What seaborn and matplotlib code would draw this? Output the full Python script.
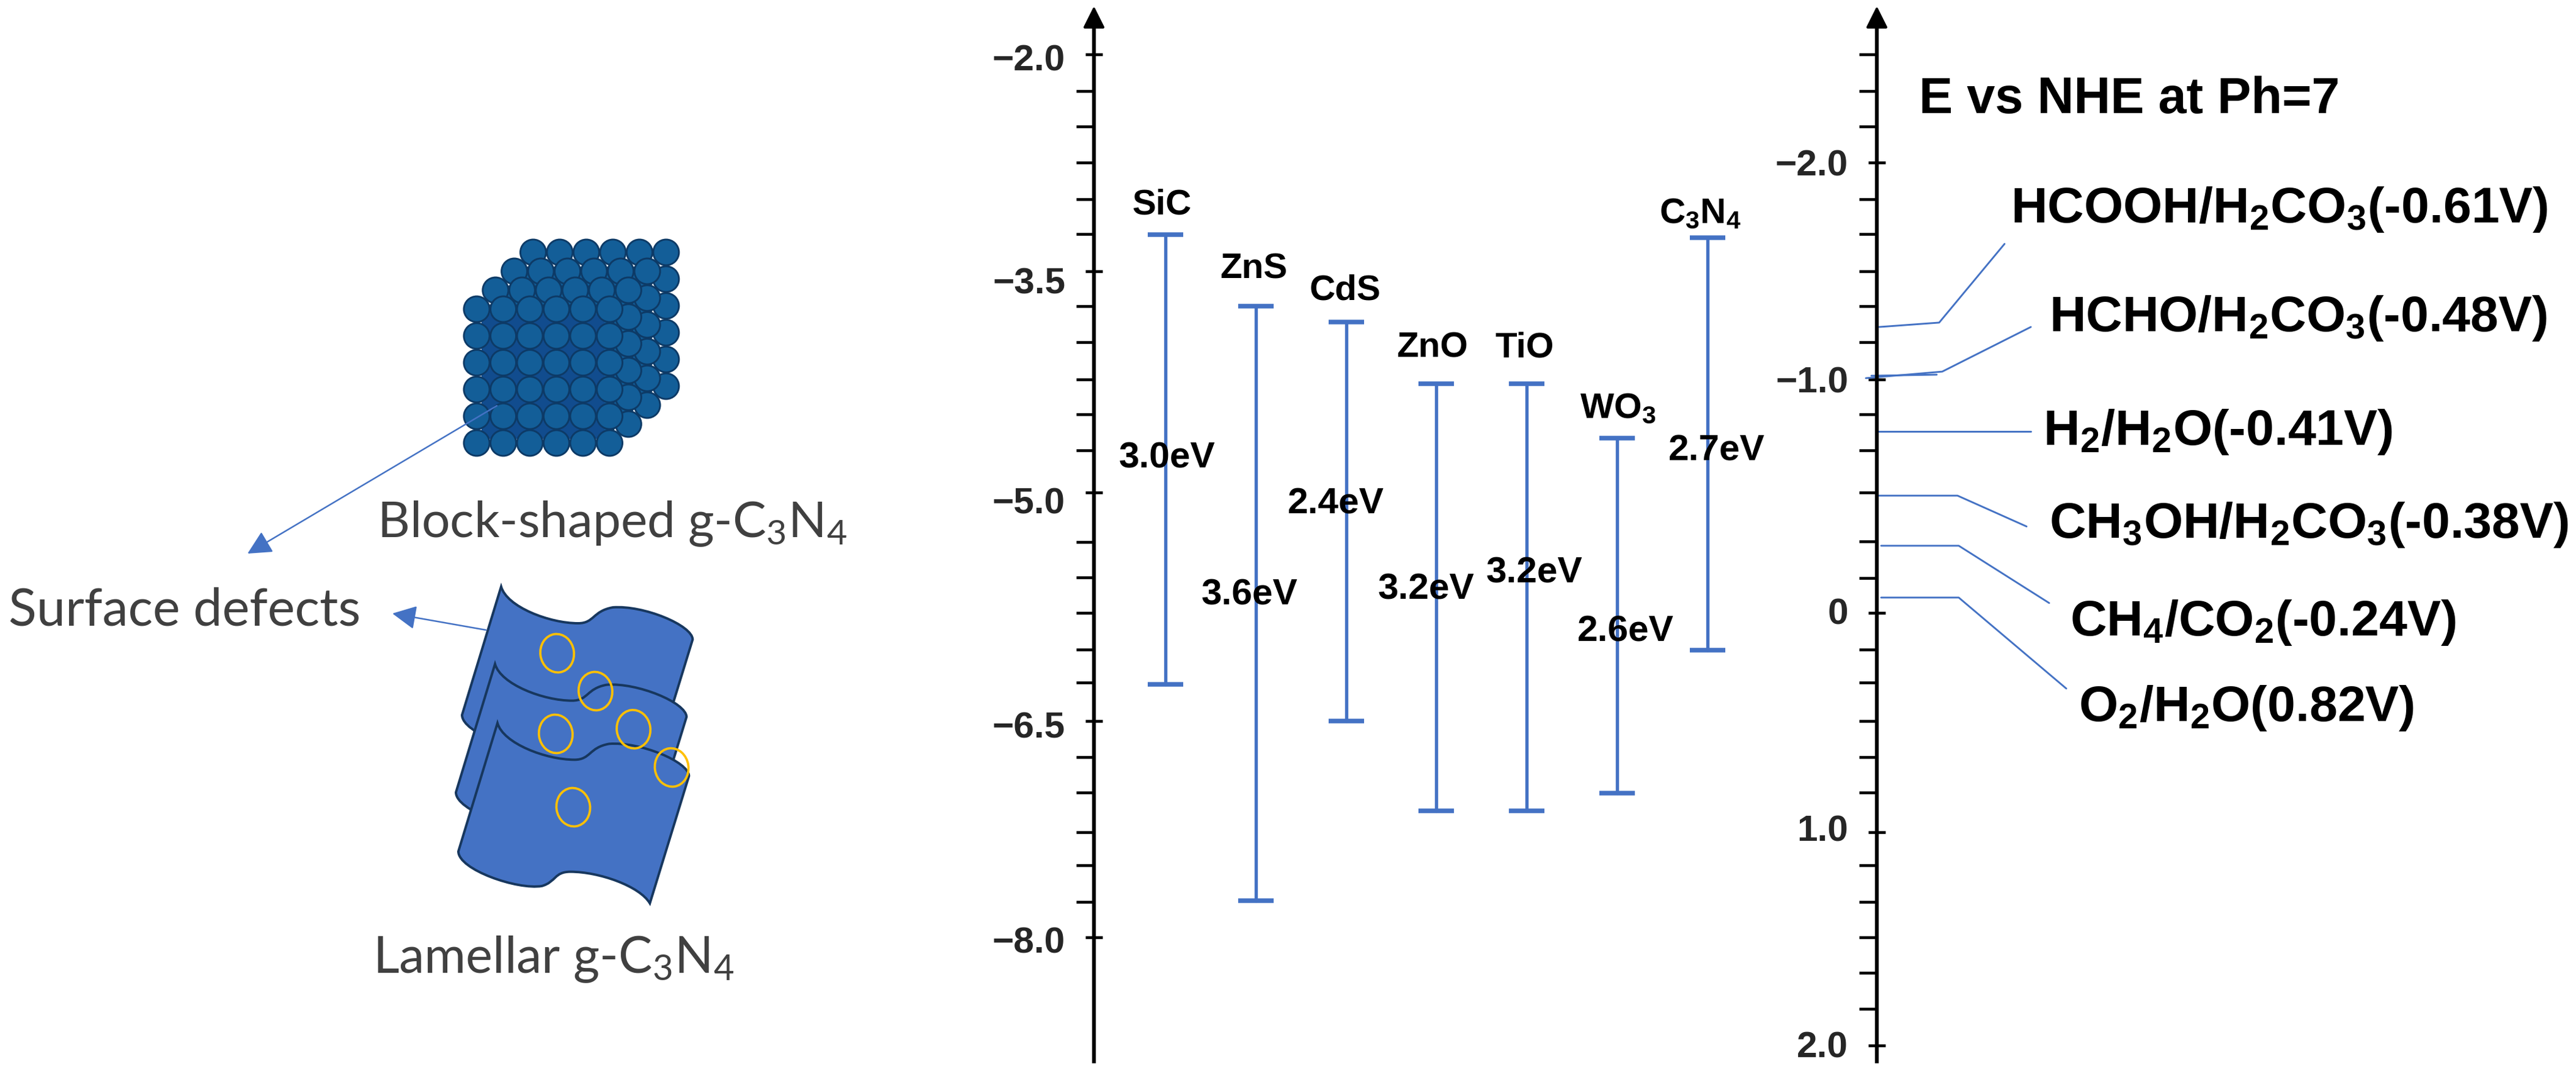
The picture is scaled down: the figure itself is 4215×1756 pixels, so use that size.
import matplotlib
matplotlib.use('Agg')
import matplotlib.pyplot as plt
import pandas as pd
import seaborn as sns
from matplotlib.patches import Circle, Ellipse, PathPatch, Rectangle
from matplotlib.path import Path
from matplotlib.transforms import ScaledTranslation

# band edges, energy scale
materials = ['SiC', 'ZnS', 'CdS', 'ZnO', 'TiO', 'WO$_3$', 'C$_3$N$_4$']
band_top = [-3.225, -3.71, -3.82, -4.24, -4.24, -4.61, -3.245]
band_bottom = [-6.28, -7.75, -6.53, -7.14, -7.14, -7.02, -6.05]
band_gap = ['3.0eV', '3.6eV', '2.4eV', '3.2eV', '3.2eV', '2.6eV', '2.7eV']

energy_major = [-2.0, -3.474, -4.978, -6.531, -8.0]
energy_major_labels = ['\u22122.0', '\u22123.5', '\u22125.0', '\u22126.5', '\u22128.0']
energy_minor = [-2.249, -2.49, -2.735, -2.984, -3.221, -3.711, -3.956, -4.209, -4.446, -4.691,
                -5.314, -5.555, -5.796, -6.045, -6.269, -6.776, -7.017, -7.286, -7.511, -7.76]

# redox potentials on the right axis
potential_major = [-2.059, -1.067, 0.0, 1.003, 1.978]
potential_major_labels = ['\u22122.0', '\u22121.0', '0', '1.0', '2.0']
potential_minor = [-2.553, -2.385, -2.223, -1.891, -1.732, -1.561, -1.402, -1.237, -0.908, -0.743,
                   -0.55, -0.327, -0.159, 0.168, 0.318, 0.494, 0.659, 0.821, 1.154, 1.321, 1.483,
                   1.645, 1.81]
redox_labels = ['HCOOH/H$_2$CO$_3$(-0.61V)', 'HCHO/H$_2$CO$_3$(-0.48V)', 'H$_2$/H$_2$O(-0.41V)',
                'CH$_3$OH/H$_2$CO$_3$(-0.38V)', 'CH$_4$/CO$_2$(-0.24V)', 'O$_2$/H$_2$O(0.82V)']
leader_start = [-1.307, -1.073, -0.83, -0.536, -0.307, -0.07]
leader_elbow = [-1.327, -1.103, -0.83, -0.536, -0.307, -0.07]
leader_end = [-1.687, -1.307, -0.83, -0.395, -0.045, 0.346]

# layout, in pixels of the 4215x1756 picture
W, H = 4215, 1756
BAR_X0, BAR_STEP = 1907, 147.83
E_Y0, E_SCALE = 89, 240.8      # y pixel of -2.0, pixels per eV
P_Y0, P_SCALE = 1003, 358      # y pixel of 0, pixels per V
AXIS2_X = 3071
name_xy = [(1901, 336), (2051, 441), (2201, 476), (2344, 570), (2495, 570), (2647, 669), (2782, 350)]
gap_xy = [(1910, 750), (2045, 974), (2186, 825), (2334, 965), (2511, 938), (2660, 1034), (2809, 738)]
redox_xy = [(3290, 364), (3353, 542), (3343, 728), (3353, 880), (3387, 1040), (3401, 1180)]
leader_x = [(3075, 3173, 3280), (3053, 3178, 3323), (3072, 3200, 3323),
            (3074, 3203, 3316), (3078, 3205, 3353), (3078, 3205, 3381)]
# the printed tick labels sit a little below their ticks
energy_label_shift = [5, 15, 13, 6, 4]
potential_label_shift = [0, 0, -3, -7, -2]

BLUE = '#4472C4'

sns.set_theme(style='white', rc={'text.color': 'black', 'axes.labelcolor': 'black'})
plt.rcParams['font.family'] = ['Liberation Sans', 'DejaVu Sans']
plt.rcParams['mathtext.default'] = 'regular'

fig = plt.figure(figsize=(W / 300, H / 300), dpi=300)


def full_axes():
    ax = fig.add_axes([0, 0, 1, 1])
    ax.set_facecolor('none')
    return ax


def px_e(y):
    return -2 - (y - E_Y0) / E_SCALE


def px_p(y):
    return (y - P_Y0) / P_SCALE


def shift_tick_labels(ax, shifts):
    for tick, dy in zip(ax.yaxis.get_major_ticks(), shifts):
        offset = ScaledTranslation(0, -dy / 300, fig.dpi_scale_trans)
        tick.label1.set_transform(tick.label1.get_transform() + offset)


def draw_block(ax):
    # four layers of spheres, back to front
    for layer in range(3, -1, -1):
        x0, y0 = 780 + layer * 30.8, 506 - layer * 31
        if layer == 0:
            ax.add_patch(Rectangle((x0 + 10, y0 + 10), 197, 200, color='#114C8E', zorder=1))
        for i in range(6):
            for j in range(6):
                ax.add_patch(Circle((x0 + i * 43.5, y0 + j * 43.8), 21, facecolor='#135E98',
                                    edgecolor='#0D3A66', linewidth=0.7, zorder=1))


def sheet_path(dx, dy):
    # outline taken from a 3x crop starting at (720, 960)
    pts = [(282, 670), (310, 770), (520, 850), (660, 850), (740, 850), (730, 790), (830, 772),
           (980, 760), (1222, 860), (1222, 930), (1030, 1555), (980, 1470), (780, 1400), (640, 1400),
           (560, 1400), (570, 1450), (500, 1470), (380, 1490), (90, 1390), (90, 1300), (282, 670)]
    codes = [Path.MOVETO] + [Path.CURVE4] * 9 + [Path.LINETO] + [Path.CURVE4] * 9 + [Path.CLOSEPOLY]
    verts = [(720 + (x + dx) / 3, 960 + (y + dy) / 3) for x, y in pts]
    return Path(verts, codes)


def draw_illustration(ax):
    ax.set_xlim(0, W)
    ax.set_ylim(H, 0)
    ax.axis('off')
    draw_block(ax)

    for k, (dx, dy) in enumerate([(18, -670), (-12, -290), (0, 0)]):
        ax.add_patch(PathPatch(sheet_path(dx, dy), facecolor=BLUE, edgecolor='#17375E',
                               linewidth=0.95, zorder=2 + k))
    for cx, cy in [(575, 327), (763, 513), (568, 723), (950, 700), (1137, 888), (654, 1083)]:
        ax.add_patch(Ellipse((720 + cx / 3, 960 + cy / 3), 55, 63, angle=-8, fill=False,
                             edgecolor='#FFC000', linewidth=0.9, zorder=6))

    arrow = dict(arrowstyle='-|>', color=BLUE, lw=0.6, mutation_scale=20, shrinkA=0, shrinkB=0)
    ax.annotate('', xy=(405, 906), xytext=(813, 664), arrowprops=arrow, zorder=7)
    ax.annotate('', xy=(642, 1004), xytext=(795, 1031), arrowprops=arrow, zorder=7)

    kw = dict(family='Lato', color='#404040', va='baseline')
    ax.text(617, 879, 'Block-shaped g-C$_3$N$_4$', fontsize=19.7, **kw)
    ax.text(14, 1023, 'Surface defects', fontsize=20.3, **kw)
    ax.text(610, 1592, 'Lamellar g-C$_3$N$_4$', fontsize=19.9, **kw)


def draw_energy_axis(ax):
    x_spine = (1790 - BAR_X0) / BAR_STEP
    edges = pd.DataFrame({
        'pos': list(range(len(materials))) * 2,
        'energy': band_top + band_bottom,
    })
    sns.lineplot(data=edges, x='pos', y='energy', units='pos', estimator=None, color=BLUE,
                 linewidth=1.3, legend=False, ax=ax)
    sns.scatterplot(data=edges, x='pos', y='energy', marker='_', s=200, color=BLUE, linewidth=1.8,
                    legend=False, ax=ax)
    ax.set_xlim(-BAR_X0 / BAR_STEP, (W - BAR_X0) / BAR_STEP)
    ax.set_ylim(px_e(H), px_e(0))
    ax.set_xlabel('')
    ax.set_ylabel('')
    ax.set_xticks([])
    for name in ['top', 'right', 'bottom']:
        ax.spines[name].set_visible(False)
    ax.spines['left'].set_position(('data', x_spine))
    ax.spines['left'].set_bounds(px_e(1737), px_e(30))
    ax.spines['left'].set_linewidth(1.5)
    ax.spines['left'].set_color('black')

    ax.set_yticks(energy_major, energy_major_labels, fontsize=14.5, fontweight='bold')
    ax.set_yticks(energy_minor, minor=True)
    ax.tick_params(axis='y', which='major', left=True, direction='inout', length=6.5, width=1.1,
                   color='black', pad=8)
    ax.tick_params(axis='y', which='minor', left=True, direction='out', length=7, width=1.1,
                   color='black')
    shift_tick_labels(ax, energy_label_shift)
    ax.annotate('', xy=(x_spine, px_e(10)), xytext=(x_spine, px_e(45)),
                arrowprops=dict(arrowstyle='-|>', color='black', lw=1, mutation_scale=18,
                                shrinkA=0, shrinkB=0))

    for text, (x, y) in zip(materials, name_xy):
        ax.text((x - BAR_X0) / BAR_STEP, px_e(y), text, ha='center', va='center', fontsize=14,
                fontweight='bold')
    for text, (x, y) in zip(band_gap, gap_xy):
        ax.text((x - BAR_X0) / BAR_STEP, px_e(y), text, ha='center', va='center', fontsize=14.5,
                fontweight='bold')


def draw_potential_axis(ax):
    rows = []
    for i, xs in enumerate(leader_x):
        for x, v in zip(xs, (leader_start[i], leader_elbow[i], leader_end[i])):
            rows.append({'leader': i, 'x': x, 'volt': v})
    # the HCHO couple has a second short stub right at -1.0
    rows += [{'leader': 6, 'x': 3062, 'volt': -1.084}, {'leader': 6, 'x': 3169, 'volt': -1.089}]
    leaders = pd.DataFrame(rows)
    sns.lineplot(data=leaders, x='x', y='volt', units='leader', estimator=None, sort=False,
                 color=BLUE, linewidth=0.7, legend=False, ax=ax)
    ax.set_xlim(0, W)
    ax.set_ylim(px_p(H), px_p(0))
    ax.set_xlabel('')
    ax.set_ylabel('')
    ax.set_xticks([])
    for name in ['top', 'right', 'bottom']:
        ax.spines[name].set_visible(False)
    ax.spines['left'].set_position(('data', AXIS2_X))
    ax.spines['left'].set_bounds(px_p(1737), px_p(30))
    ax.spines['left'].set_linewidth(1.5)
    ax.spines['left'].set_color('black')

    ax.set_yticks(potential_major, potential_major_labels, fontsize=14.5, fontweight='bold')
    ax.set_yticks(potential_minor, minor=True)
    ax.tick_params(axis='y', which='major', left=True, direction='inout', length=6.5, width=1.1,
                   color='black', pad=8)
    ax.tick_params(axis='y', which='minor', left=True, direction='out', length=7, width=1.1,
                   color='black')
    shift_tick_labels(ax, potential_label_shift)
    ax.annotate('', xy=(AXIS2_X, px_p(10)), xytext=(AXIS2_X, px_p(45)),
                arrowprops=dict(arrowstyle='-|>', color='black', lw=1, mutation_scale=18,
                                shrinkA=0, shrinkB=0))

    ax.text(3140, px_p(185), 'E vs NHE at Ph=7', fontsize=19.9, fontweight='bold', va='baseline')
    for text, (x, y) in zip(redox_labels, redox_xy):
        ax.text(x, px_p(y), text, fontsize=19.8, fontweight='bold', va='baseline')


draw_illustration(full_axes())
draw_energy_axis(full_axes())
draw_potential_axis(full_axes())

fig.savefig('out.png', dpi=300)
